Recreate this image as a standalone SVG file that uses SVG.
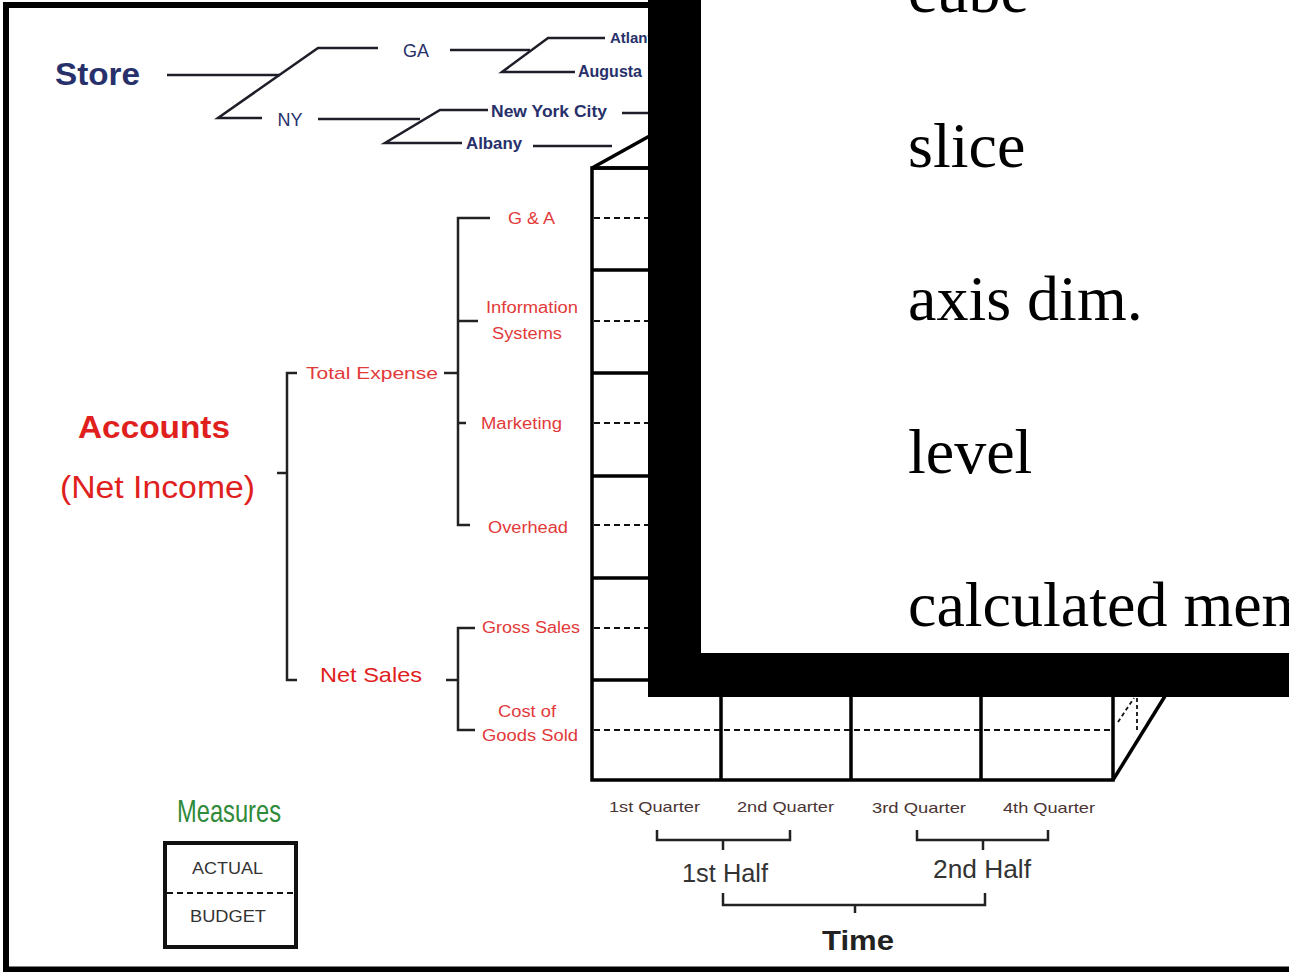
<svg xmlns="http://www.w3.org/2000/svg" width="1289" height="972" viewBox="0 0 1289 972">
<style>
.tl{fill:none;stroke:#1e1e28;stroke-width:2.5}
.br{fill:none;stroke:#222;stroke-width:2.5}
.cb{fill:none;stroke:#000;stroke-width:3.5}
.dl{fill:none;stroke:#111;stroke-width:2;stroke-dasharray:6 4}
.nv{font-family:"Liberation Sans",Arial,sans-serif;fill:#27306a}
.rd{font-family:"Liberation Sans",Arial,sans-serif;fill:#e23a3a}
.dk{font-family:"Liberation Sans",Arial,sans-serif;fill:#333}
.q{font-family:"Liberation Sans",Arial,sans-serif;fill:#4a3434;font-size:15px}
.big{font-family:"Liberation Serif","Times New Roman",serif;font-size:64px;fill:#000}
</style>
<defs>
<clipPath id="leftside"><rect x="0" y="0" width="648" height="972"/></clipPath>
</defs>
<rect x="0" y="0" width="1289" height="972" fill="#fff"/>
<rect id="frame" x="6" y="5" width="1300" height="964.5" fill="none" stroke="#000" stroke-width="6"/>

<g id="connectors">
  <!-- Store tree -->
  <path class="tl" d="M167,75 H280"/>
  <path class="tl" d="M378,48 H318 L218,118 H262"/>
  <path class="tl" d="M450,50 H530"/>
  <path class="tl" d="M605,38 H548 L502,72 H575"/>
  <path class="tl" d="M318,119 H420"/>
  <path class="tl" d="M488,110 H440 L385,143 H462"/>
  <path class="tl" d="M622,113 H648"/>
  <path class="tl" d="M533,146 H612"/>
  <!-- Accounts brackets -->
  <path class="br" d="M297,373 H287 V680 H297"/>
  <path class="br" d="M277,473 H287"/>
  <path class="br" d="M444,373 H458"/>
  <path class="br" d="M490,218 H458 V525 H470"/>
  <path class="br" d="M458,321 H478"/>
  <path class="br" d="M458,423 H466"/>
  <path class="br" d="M475,628 H458 V730 H475"/>
  <path class="br" d="M446,680 H458"/>
  <!-- Time brackets -->
  <path class="br" d="M657,830 V840 H790 V830"/>
  <path class="br" d="M723,840 V850"/>
  <path class="br" d="M917,830 V840 H1048 V830"/>
  <path class="br" d="M983,840 V850"/>
  <path class="br" d="M723,893 V905 H985 V893"/>
  <path class="br" d="M855,905 V913"/>
</g>

<g id="cube">
  <path class="cb" d="M592,168 H1200"/>
  <path class="cb" d="M592,168 L700,108"/>
  <rect class="cb" x="592" y="168" width="521" height="612"/>
  <path class="cb" d="M592,270 H1113 M592,373 H1113 M592,476 H1113 M592,578 H1113 M592,680 H1113"/>
  <path class="cb" d="M721,168 V780 M851,168 V780 M981,168 V780"/>
  <path class="cb" d="M1113,780 L1170,688"/>
  <path class="dl" d="M594,218 H1113 M594,321 H1113 M594,423 H1113 M594,525 H1113 M594,628 H1113 M594,730 H1113"/>
  <path class="dl" style="stroke-dasharray:4 3;stroke-width:1.8" d="M1118,722 L1134,698 M1137,698 V730"/>
</g>

<g id="store">
  <text class="nv" x="55" y="85" font-size="32" font-weight="bold" textLength="85" lengthAdjust="spacingAndGlyphs">Store</text>
</g>
<g id="ga"><text class="nv" x="416" y="57" font-size="18" text-anchor="middle">GA</text></g>
<g id="ny"><text class="nv" x="290" y="126" font-size="18" text-anchor="middle">NY</text></g>
<g id="atlanta" clip-path="url(#leftside)"><text class="nv" x="610" y="43" font-size="15" font-weight="bold">Atlanta</text></g>
<g id="augusta" clip-path="url(#leftside)"><text class="nv" x="578" y="77" font-size="16" font-weight="bold">Augusta</text></g>
<g id="nyc"><text class="nv" x="491" y="117" font-size="16" font-weight="bold" textLength="116" lengthAdjust="spacingAndGlyphs">New York City</text></g>
<g id="albany"><text class="nv" x="466" y="149" font-size="16" font-weight="bold" textLength="56" lengthAdjust="spacingAndGlyphs">Albany</text></g>

<g id="accounts">
  <text class="rd" x="78" y="438" font-size="32" font-weight="bold" style="fill:#e0201c" textLength="152" lengthAdjust="spacingAndGlyphs">Accounts</text>
  <text class="rd" x="60" y="498" font-size="31" style="fill:#e0201c" textLength="195" lengthAdjust="spacingAndGlyphs">(Net Income)</text>
</g>
<g id="total-expense"><text class="rd" x="306" y="379" font-size="17" textLength="132" lengthAdjust="spacingAndGlyphs">Total Expense</text></g>
<g id="ga-acct"><text class="rd" x="508" y="224" font-size="16" textLength="47" lengthAdjust="spacingAndGlyphs">G &amp; A</text></g>
<g id="info-sys">
  <text class="rd" x="532" y="313" font-size="16" text-anchor="middle" textLength="92" lengthAdjust="spacingAndGlyphs">Information</text>
  <text class="rd" x="527" y="339" font-size="16" text-anchor="middle" textLength="70" lengthAdjust="spacingAndGlyphs">Systems</text>
</g>
<g id="marketing"><text class="rd" x="481" y="429" font-size="16" textLength="81" lengthAdjust="spacingAndGlyphs">Marketing</text></g>
<g id="overhead"><text class="rd" x="488" y="533" font-size="16" textLength="80" lengthAdjust="spacingAndGlyphs">Overhead</text></g>
<g id="net-sales"><text class="rd" x="320" y="682" font-size="21" style="fill:#e0201c" textLength="102" lengthAdjust="spacingAndGlyphs">Net Sales</text></g>
<g id="gross-sales"><text class="rd" x="482" y="633" font-size="16" textLength="98" lengthAdjust="spacingAndGlyphs">Gross Sales</text></g>
<g id="cogs">
  <text class="rd" x="527" y="717" font-size="16" text-anchor="middle" textLength="58" lengthAdjust="spacingAndGlyphs">Cost of</text>
  <text class="rd" x="530" y="741" font-size="16" text-anchor="middle" textLength="96" lengthAdjust="spacingAndGlyphs">Goods Sold</text>
</g>

<g id="quarters">
  <text class="q" x="609" y="812" textLength="91" lengthAdjust="spacingAndGlyphs">1st Quarter</text>
  <text class="q" x="737" y="812" textLength="97" lengthAdjust="spacingAndGlyphs">2nd Quarter</text>
  <text class="q" x="872" y="813" textLength="94" lengthAdjust="spacingAndGlyphs">3rd Quarter</text>
  <text class="q" x="1003" y="813" textLength="92" lengthAdjust="spacingAndGlyphs">4th Quarter</text>
</g>
<g id="half1"><text class="dk" x="682" y="882" font-size="25" textLength="86" lengthAdjust="spacingAndGlyphs">1st Half</text></g>
<g id="half2"><text class="dk" x="933" y="878" font-size="25" textLength="98" lengthAdjust="spacingAndGlyphs">2nd Half</text></g>
<g id="time"><text class="dk" x="822" y="950" font-size="28" font-weight="bold" style="fill:#222" textLength="72" lengthAdjust="spacingAndGlyphs">Time</text></g>

<g id="measures">
  <text x="177" y="822" font-family="'Liberation Sans',Arial,sans-serif" font-size="32" fill="#2f8a3a" textLength="104" lengthAdjust="spacingAndGlyphs">Measures</text>
  <rect x="165" y="843" width="131" height="104" fill="#fff" stroke="#111" stroke-width="4"/>
  <path class="dl" d="M167,893 H294"/>
  <text class="dk" x="192" y="874" font-size="16" textLength="71" lengthAdjust="spacingAndGlyphs">ACTUAL</text>
  <text class="dk" x="190" y="922" font-size="16" textLength="76" lengthAdjust="spacingAndGlyphs">BUDGET</text>
</g>

<g id="panel">
  <rect x="648" y="-10" width="700" height="707" fill="#000"/>
  <rect x="701" y="-10" width="650" height="663" fill="#fff"/>
  <text class="big" x="908" y="12">cube</text>
  <text class="big" x="908" y="167">slice</text>
  <text class="big" x="908" y="320">axis dim.</text>
  <text class="big" x="908" y="473">level</text>
  <text class="big" x="908" y="626">calculated member</text>
</g>
</svg>
